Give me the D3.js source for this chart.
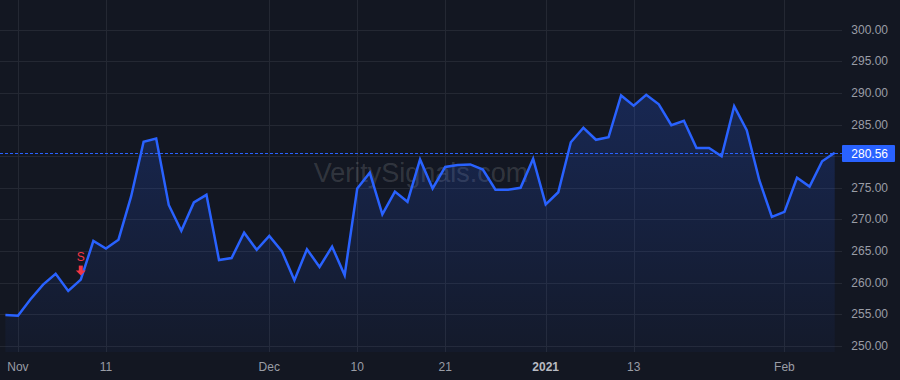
<!DOCTYPE html>
<html>
<head>
<script src="https://cdn.jsdelivr.net/npm/d3@7"></script>
<style>
  html, body { margin: 0; padding: 0; background: #131722; }
  #chart { width: 900px; height: 380px; }
</style>
</head>
<body>
<div id="chart"></div>
<script>
// trading days, Oct 30 2020 .. Feb 5 2021
var dates = [
  "2020-10-30",
  "2020-11-02","2020-11-03","2020-11-04","2020-11-05","2020-11-06","2020-11-09","2020-11-10",
  "2020-11-11","2020-11-12","2020-11-13","2020-11-16","2020-11-17","2020-11-18","2020-11-19",
  "2020-11-20","2020-11-23","2020-11-24","2020-11-25","2020-11-27","2020-11-30",
  "2020-12-01","2020-12-02","2020-12-03","2020-12-04","2020-12-07","2020-12-08","2020-12-09",
  "2020-12-10","2020-12-11","2020-12-14","2020-12-15","2020-12-16","2020-12-17","2020-12-18",
  "2020-12-21","2020-12-22","2020-12-23","2020-12-24","2020-12-28","2020-12-29","2020-12-30",
  "2020-12-31",
  "2021-01-04","2021-01-05","2021-01-06","2021-01-07","2021-01-08","2021-01-11","2021-01-12",
  "2021-01-13","2021-01-14","2021-01-15","2021-01-19","2021-01-20","2021-01-21","2021-01-22",
  "2021-01-25","2021-01-26","2021-01-27","2021-01-28","2021-01-29",
  "2021-02-01","2021-02-02","2021-02-03","2021-02-04","2021-02-05"
];

var closes = [
  254.9,
  254.8, 257.4, 259.7, 261.4, 258.7, 260.5, 266.6,
  265.4, 266.8, 273.6, 282.3, 282.8, 272.3, 268.2,
  272.7, 273.9, 263.6, 263.9, 267.9, 265.2,
  267.4, 265.0, 260.4, 265.3, 262.5, 265.7, 261.2,
  274.9, 277.4, 270.8, 274.4, 272.8, 279.5, 274.9,
  278.3, 278.6, 278.7, 277.9, 274.7, 274.7, 275.0,
  279.6,
  272.4, 274.3, 282.2, 284.5, 282.6, 283.0, 289.6,
  288.0, 289.7, 288.2, 284.9, 285.6, 281.3, 281.3,
  280.0, 287.9, 284.1, 276.2, 270.4,
  271.2, 276.6, 275.2, 279.2, 280.56
];

var tickDates  = ["2020-11-02","2020-11-11","2020-12-01","2020-12-10","2020-12-21","2021-01-04","2021-01-13","2021-02-01"];
var tickLabels = ["Nov", "11", "Dec", "10", "21", "2021", "13", "Feb"];
var tickBold   = [false, false, false, false, false, true, false, false];

var priceTicks = [250, 255, 260, 265, 270, 275, 280, 285, 290, 295, 300];

var markerDates = ["2020-11-09"];
var markerTexts = ["S"];

var W = 900, H = 380;
var plotW = 842, plotH = 352;
var lineColor = "#2962ff";
var gridColor = "#242833";
var textColor = "#9a9da6";
var font = "'Liberation Sans', Arial, sans-serif";

var svg = d3.select("#chart").append("svg")
  .attr("width", W)
  .attr("height", H)
  .style("display", "block");

svg.append("rect")
  .attr("width", W).attr("height", H)
  .attr("fill", "#131722");

var x = d3.scaleLinear().domain([0, dates.length - 1]).range([5.4, 834.7]);
var y = d3.scaleLinear().domain([250, 300]).range([346, 29.7]);

function xOfDate(d) { return x(dates.indexOf(d)); }

// grid
var grid = svg.append("g");
grid.selectAll(".hg").data(priceTicks).enter().append("line")
  .attr("x1", 0).attr("x2", plotW)
  .attr("y1", function(d) { return Math.round(y(d)) + 0.5; })
  .attr("y2", function(d) { return Math.round(y(d)) + 0.5; })
  .attr("stroke", gridColor).attr("stroke-width", 1);
grid.selectAll(".vg").data(tickDates).enter().append("line")
  .attr("y1", 0).attr("y2", plotH)
  .attr("x1", function(d) { return Math.round(xOfDate(d)) + 0.5; })
  .attr("x2", function(d) { return Math.round(xOfDate(d)) + 0.5; })
  .attr("stroke", gridColor).attr("stroke-width", 1);

// watermark
svg.append("text")
  .attr("x", plotW / 2).attr("y", 173)
  .attr("text-anchor", "middle")
  .attr("dominant-baseline", "central")
  .attr("font-family", font)
  .attr("font-size", 27)
  .attr("fill", "rgba(255,255,255,0.14)")
  .text("VeritySignals.com");

// area
var defs = svg.append("defs");
var grad = defs.append("linearGradient")
  .attr("id", "areaGrad")
  .attr("gradientUnits", "userSpaceOnUse")
  .attr("x1", 0).attr("x2", 0)
  .attr("y1", y(d3.max(closes))).attr("y2", plotH);
grad.append("stop").attr("offset", 0).attr("stop-color", lineColor).attr("stop-opacity", 0.22);
grad.append("stop").attr("offset", 1).attr("stop-color", lineColor).attr("stop-opacity", 0.04);

var area = d3.area()
  .x(function(d, i) { return x(i); })
  .y0(plotH)
  .y1(function(d) { return y(d); });

svg.append("path")
  .datum(closes)
  .attr("d", area)
  .attr("fill", "url(#areaGrad)");

var line = d3.line()
  .x(function(d, i) { return x(i); })
  .y(function(d) { return y(d); });

svg.append("path")
  .datum(closes)
  .attr("d", line)
  .attr("fill", "none")
  .attr("stroke", lineColor)
  .attr("stroke-width", 2.5)
  .attr("stroke-linejoin", "miter");

// last price line
var last = closes[closes.length - 1];
var ly = Math.round(y(last)) + 0.5;
svg.append("line")
  .attr("x1", 0).attr("x2", plotW)
  .attr("y1", ly).attr("y2", ly)
  .attr("stroke", lineColor)
  .attr("stroke-width", 1)
  .attr("stroke-dasharray", "3,2");

// signal markers
markerDates.forEach(function(d, k) {
  var mi = dates.indexOf(d);
  var mx = x(mi), my = y(closes[mi]);
  var g = svg.append("g").attr("fill", "#f23645");
  g.append("rect")
    .attr("x", mx - 2).attr("y", my - 14)
    .attr("width", 4).attr("height", 6);
  g.append("path")
    .attr("d", "M" + (mx - 5) + "," + (my - 9) + "L" + (mx + 5) + "," + (my - 9) + "L" + mx + "," + (my - 4) + "Z");
  g.append("text")
    .attr("x", mx).attr("y", my - 22.5)
    .attr("text-anchor", "middle")
    .attr("dominant-baseline", "central")
    .attr("font-family", font)
    .attr("font-size", 12)
    .text(markerTexts[k]);
});

// price axis (labels hidden behind the last price label are skipped)
var pAxis = svg.append("g");
pAxis.selectAll("text")
  .data(priceTicks.filter(function(d) { return Math.abs(y(d) - ly) > 14; }))
  .enter().append("text")
  .attr("x", 888)
  .attr("y", function(d) { return y(d); })
  .attr("text-anchor", "end")
  .attr("dominant-baseline", "central")
  .attr("font-family", font)
  .attr("font-size", 12)
  .attr("fill", textColor)
  .text(function(d) { return d3.format(".2f")(d); });

// last price label
svg.append("rect")
  .attr("x", 842).attr("y", ly - 8.5)
  .attr("width", 53).attr("height", 17)
  .attr("rx", 1)
  .attr("fill", lineColor);
svg.append("text")
  .attr("x", 888).attr("y", ly)
  .attr("text-anchor", "end")
  .attr("dominant-baseline", "central")
  .attr("font-family", font)
  .attr("font-size", 12)
  .attr("fill", "#ffffff")
  .text(d3.format(".2f")(last));

// time axis
var tAxis = svg.append("g");
tAxis.selectAll("text").data(tickDates).enter().append("text")
  .attr("x", function(d) { return xOfDate(d); })
  .attr("y", 367)
  .attr("text-anchor", "middle")
  .attr("dominant-baseline", "central")
  .attr("font-family", font)
  .attr("font-size", 12)
  .attr("font-weight", function(d, i) { return tickBold[i] ? "bold" : "normal"; })
  .attr("fill", function(d, i) { return tickBold[i] ? "#b8bbc3" : textColor; })
  .text(function(d, i) { return tickLabels[i]; });
</script>
</body>
</html>
